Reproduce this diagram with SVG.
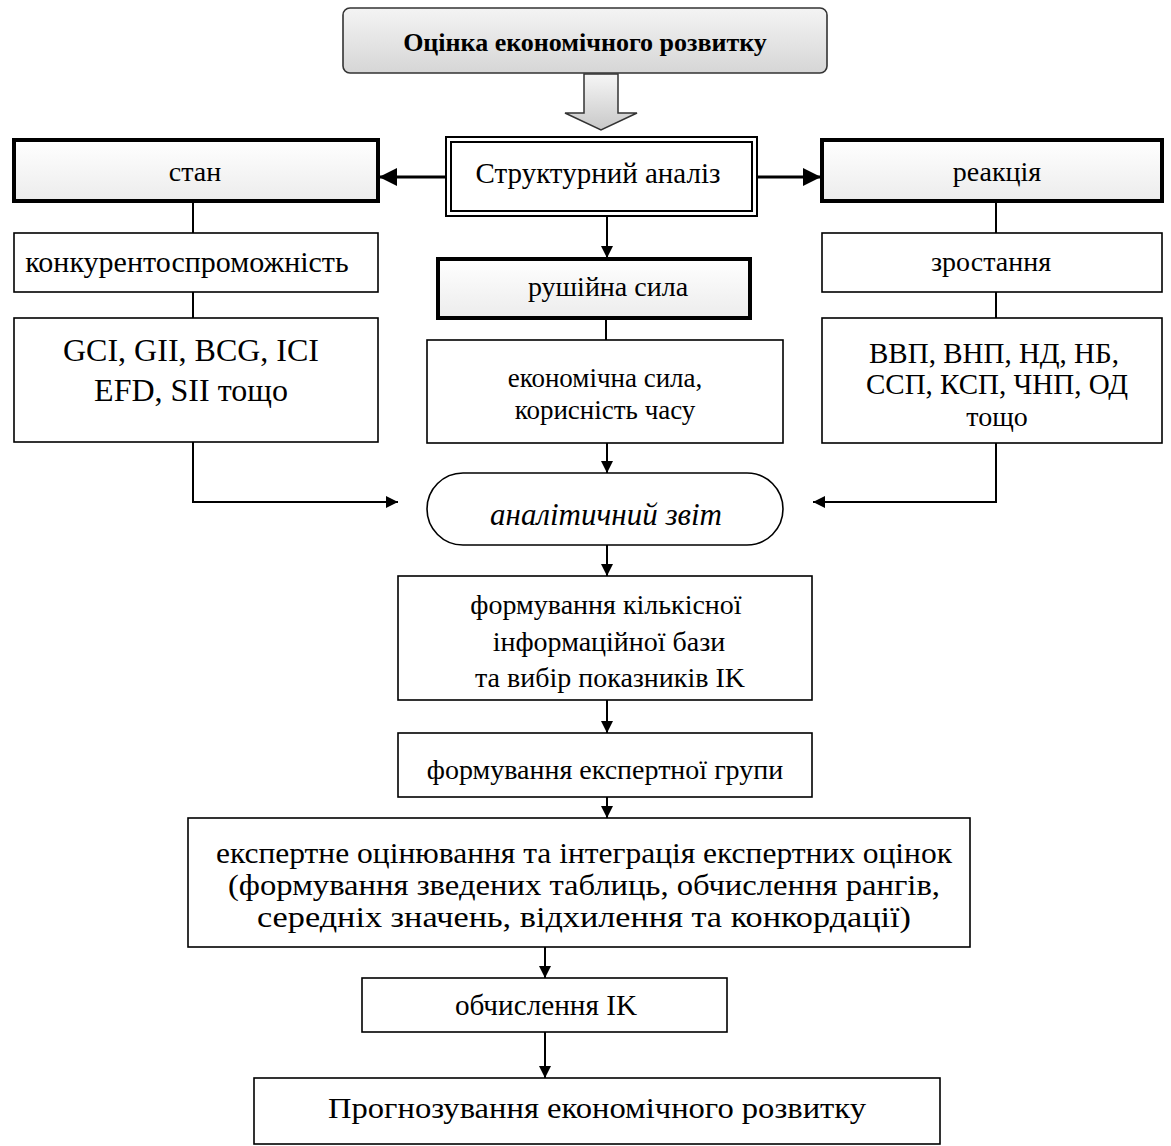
<svg xmlns="http://www.w3.org/2000/svg" width="1171" height="1146" viewBox="0 0 1171 1146">
<defs>
<linearGradient id="gTitle" x1="0" y1="0" x2="0" y2="1"><stop offset="0" stop-color="#f4f4f4"/><stop offset="1" stop-color="#d6d6d6"/></linearGradient>
<linearGradient id="gBox" x1="0" y1="0" x2="0" y2="1"><stop offset="0" stop-color="#ffffff"/><stop offset="1" stop-color="#ececec"/></linearGradient>
<linearGradient id="gArrow" x1="0" y1="0" x2="0" y2="1"><stop offset="0" stop-color="#f6f6f6"/><stop offset="1" stop-color="#c8c8c8"/></linearGradient>
<marker id="ah" viewBox="0 0 10 10" refX="10" refY="5" markerWidth="6" markerHeight="6" orient="auto" markerUnits="strokeWidth"><path d="M0,0 L10,5 L0,10 z" fill="#000"/></marker>
<marker id="ahs" viewBox="0 0 10 10" refX="10" refY="5" markerWidth="6" markerHeight="6" orient="auto" markerUnits="strokeWidth"><path d="M0,0 L10,5 L0,10 z" fill="#000"/></marker>
</defs>
<style>
text{font-family:"Liberation Serif","Times New Roman",serif;fill:#000;text-anchor:middle}
.box{fill:#fff;stroke:#000;stroke-width:1.6}
.thick{fill:url(#gBox);stroke:#000;stroke-width:4}
.t27{font-size:27px}
.t28{font-size:28px}
.t29{font-size:29px}
.t30{font-size:30px}
.t32{font-size:32px}
.c{fill:none;stroke:#000;stroke-width:2}
.cw{fill:none;stroke:#000;stroke-width:3}
</style>
<g id="title">
<rect x="343" y="8" width="484" height="65" rx="7" fill="url(#gTitle)" stroke="#333" stroke-width="1.6"/>
<text x="585" y="51" style="font-size:26px;font-weight:bold">Оцінка економічного розвитку</text>
</g>
<g id="bigarrow">
<path d="M584,74 L618,74 L618,113 L637,113 L601,130 L565,113 L584,113 Z" fill="url(#gArrow)" stroke="#333" stroke-width="1.5"/>
</g>
<g id="stan"><rect class="thick" x="14" y="140" width="364" height="61"/><text class="t28" x="195" y="181">стан</text></g>
<g id="struct">
<rect x="446" y="137" width="311" height="79" fill="#fff" stroke="#000" stroke-width="2"/>
<rect x="451" y="142" width="301" height="69" fill="none" stroke="#000" stroke-width="2"/>
<text class="t29" x="598" y="183">Структурний аналіз</text>
</g>
<g id="reakcia"><rect class="thick" x="822" y="140" width="340" height="61"/><text class="t28" x="997" y="181">реакція</text></g>
<g id="konk"><rect class="box" x="14" y="233" width="364" height="59"/><text class="t30" x="187" y="272">конкурентоспроможність</text></g>
<g id="zrost"><rect class="box" x="822" y="233" width="340" height="59"/><text class="t28" x="991" y="271">зростання</text></g>
<g id="rushiina"><rect class="thick" x="438" y="259" width="312" height="59"/><text class="t28" x="608" y="296">рушійна сила</text></g>
<g id="gci"><rect class="box" x="14" y="318" width="364" height="124"/><text class="t32" x="191" y="361">GCI, GII, BCG, ICI</text><text class="t32" x="191" y="401">EFD, SII тощо</text></g>
<g id="econ"><rect class="box" x="427" y="340" width="356" height="103"/><text class="t27" x="605" y="387">економічна сила,</text><text class="t27" x="605" y="419">корисність часу</text></g>
<g id="vvp"><rect class="box" x="822" y="318" width="340" height="125"/><text class="t29" x="994" y="363">ВВП, ВНП, НД, НБ,</text><text class="t29" x="997" y="394">ССП, КСП, ЧНП, ОД</text><text class="t28" x="997" y="426">тощо</text></g>
<g id="zvit"><rect class="box" x="427" y="473" width="356" height="72" rx="36" ry="36"/><text x="606" y="525" font-style="italic" style="font-size:31px">аналітичний звіт</text></g>
<g id="baza"><rect class="box" x="398" y="576" width="414" height="124"/><text class="t28" x="606" y="614">формування кількісної</text><text class="t28" x="609" y="651">інформаційної бази</text><text class="t28" x="610" y="687">та вибір показників IK</text></g>
<g id="grupa"><rect class="box" x="398" y="733" width="414" height="64"/><text class="t28" x="605" y="779">формування експертної групи</text></g>
<g id="ocin"><rect class="box" x="188" y="818" width="782" height="129"/>
<text class="t30" x="584" y="863" textLength="736" lengthAdjust="spacingAndGlyphs">експертне оцінювання та інтеграція експертних оцінок</text>
<text class="t30" x="584" y="895" textLength="712" lengthAdjust="spacingAndGlyphs">(формування зведених таблиць, обчислення рангів,</text>
<text class="t30" x="584" y="927" textLength="654" lengthAdjust="spacingAndGlyphs">середніх значень, відхилення та конкордації)</text></g>
<g id="ik"><rect class="box" x="362" y="978" width="365" height="54"/><text class="t30" x="546" y="1015" textLength="182" lengthAdjust="spacingAndGlyphs">обчислення IK</text></g>
<g id="prognoz"><rect class="box" x="254" y="1078" width="686" height="66"/><text class="t30" x="597" y="1118" textLength="538" lengthAdjust="spacingAndGlyphs">Прогнозування економічного розвитку</text></g>
<g id="connectors">
<line class="cw" x1="446" y1="177" x2="379" y2="177" marker-end="url(#ahs)"/>
<line class="cw" x1="757" y1="177" x2="821" y2="177" marker-end="url(#ahs)"/>
<line class="c" x1="607" y1="216" x2="607" y2="258" marker-end="url(#ah)"/>
<line class="c" x1="193" y1="201" x2="193" y2="233"/>
<line class="c" x1="193" y1="292" x2="193" y2="318"/>
<line class="c" x1="996" y1="201" x2="996" y2="233"/>
<line class="c" x1="996" y1="292" x2="996" y2="318"/>
<line class="c" x1="606" y1="318" x2="606" y2="340"/>
<polyline class="c" points="193,442 193,502 398,502" marker-end="url(#ah)"/>
<polyline class="c" points="996,443 996,502 813,502" marker-end="url(#ah)"/>
<line class="c" x1="607" y1="443" x2="607" y2="473" marker-end="url(#ah)"/>
<line class="c" x1="607" y1="545" x2="607" y2="576" marker-end="url(#ah)"/>
<line class="c" x1="607" y1="700" x2="607" y2="733" marker-end="url(#ah)"/>
<line class="c" x1="607" y1="797" x2="607" y2="818" marker-end="url(#ah)"/>
<line class="c" x1="545" y1="947" x2="545" y2="978" marker-end="url(#ah)"/>
<line class="c" x1="545" y1="1032" x2="545" y2="1078" marker-end="url(#ah)"/>
</g>
</svg>
